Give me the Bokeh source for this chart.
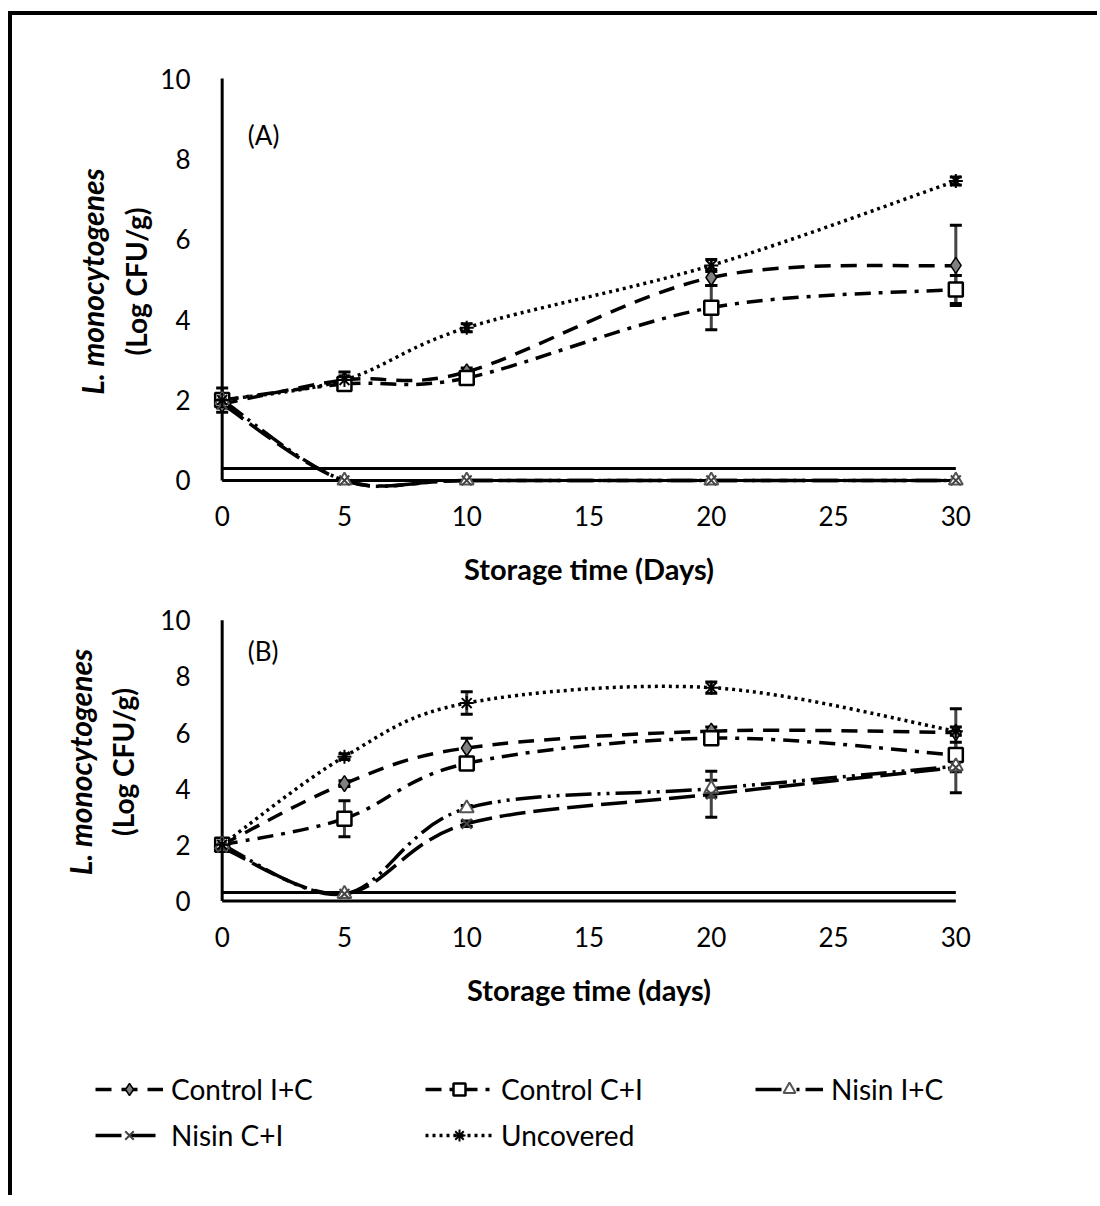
from bokeh.plotting import figure
from bokeh.models import (Range1d, LinearAxis, FixedTicker, Whisker, ColumnDataSource,
                          Label, Legend, LegendItem, TeeHead)
from bokeh.layouts import column
from bokeh.embed import file_html
from bokeh.resources import INLINE

# ---------------- data ----------------
days = [0, 5, 10, 20, 30]
x_ticks = [0, 5, 10, 15, 20, 25, 30]
y_ticks = [0, 2, 4, 6, 8, 10]
detection_limit = 0.3

names = ["Control I+C", "Control C+I", "Nisin I+C", "Nisin C+I", "Uncovered"]

# Panel (A)
a_control_ic = [1.9, 2.5, 2.7, 5.05, 5.35]
a_control_ci = [2.0, 2.4, 2.55, 4.3, 4.75]
a_nisin_ic = [2.0, 0.0, 0.0, 0.0, 0.0]
a_nisin_ci = [1.9, 0.0, 0.0, 0.0, 0.0]
a_uncovered = [2.0, 2.5, 3.8, 5.35, 7.45]

a_err_control_ic = [0.1, 0.2, 0.1, 0.2, 1.0]
a_err_control_ci = [0.3, 0.15, 0.15, 0.55, 0.35]
a_err_nisin_ic = [0.0, 0.0, 0.0, 0.0, 0.0]
a_err_nisin_ci = [0.0, 0.0, 0.0, 0.0, 0.0]
a_err_uncovered = [0.1, 0.1, 0.1, 0.15, 0.1]

# Panel (B)
b_control_ic = [2.0, 4.18, 5.45, 6.05, 6.0]
b_control_ci = [2.0, 2.93, 4.9, 5.8, 5.2]
b_nisin_ic = [2.0, 0.25, 3.3, 4.0, 4.8]
b_nisin_ci = [1.9, 0.25, 2.75, 3.8, 4.75]
b_uncovered = [2.0, 5.14, 7.05, 7.6, 6.05]

b_err_control_ic = [0.1, 0.1, 0.35, 0.15, 0.85]
b_err_control_ci = [0.1, 0.64, 0.2, 0.2, 0.2]
b_err_nisin_ic = [0.0, 0.05, 0.1, 0.3, 0.2]
b_err_nisin_ci = [0.0, 0.05, 0.1, 0.82, 0.9]
b_err_uncovered = [0.1, 0.1, 0.4, 0.2, 0.15]

# ---------------- styles ----------------
FONT = "Lato"
styles = {
    "Control I+C": dict(dash="16 10", marker="diamond", size=16, fill="#808080", mline="black", mw=1.5),
    "Control C+I": dict(dash="16 8 4 8", marker="square", size=14, fill="white", mline="black", mw=2.5),
    "Nisin I+C": dict(dash="26 6 3 6 3 6", marker="triangle", size=14, fill="white", mline="#555555", mw=2),
    "Nisin C+I": dict(dash="26 8", marker="x", size=14, fill=None, mline="#444444", mw=2),
    "Uncovered": dict(dash="3 4", marker="asterisk", size=14, fill=None, mline="black", mw=2),
}

X_RANGE = (-0.6, 30.6)
Y_RANGE = (-0.2, 10.1)
FIG_W = 1085
LEFT = 195
FRAME_W = 763


def smooth_segments(xs, ys):
    """Excel-style smoothed line: Bezier control points from neighbouring points."""
    n = len(xs)
    out = dict(x0=[], y0=[], x1=[], y1=[], cx0=[], cy0=[], cx1=[], cy1=[])
    for i in range(n - 1):
        xm, ym = (xs[i - 1], ys[i - 1]) if i > 0 else (xs[i], ys[i])
        xp, yp = (xs[i + 2], ys[i + 2]) if i + 2 < n else (xs[i + 1], ys[i + 1])
        out["x0"].append(xs[i]); out["y0"].append(ys[i])
        out["x1"].append(xs[i + 1]); out["y1"].append(ys[i + 1])
        out["cx0"].append(xs[i] + (xs[i + 1] - xm) / 6.0)
        out["cy0"].append(ys[i] + (ys[i + 1] - ym) / 6.0)
        out["cx1"].append(xs[i + 1] - (xp - xs[i]) / 6.0)
        out["cy1"].append(ys[i + 1] - (yp - ys[i]) / 6.0)
    return out


def make_panel(series, errors, tag, xlabel, top, frame_h, bottom,
               tick_standoff, xlab_standoff, lab_standoff, lab2_standoff, tag_y):
    p = figure(width=None, height=None, frame_width=FRAME_W, frame_height=frame_h,
               x_range=Range1d(*X_RANGE), y_range=Range1d(*Y_RANGE),
               output_backend="svg", toolbar_location=None,
               min_border_left=LEFT, min_border_right=FIG_W - LEFT - FRAME_W,
               min_border_top=top, min_border_bottom=bottom)
    p.outline_line_color = None
    p.grid.visible = False
    p.background_fill_color = "white"
    p.border_fill_color = "white"

    for ax in (p.xaxis[0], p.yaxis[0]):
        ax.axis_line_color = None
        ax.major_tick_line_color = None
        ax.minor_tick_line_color = None
        ax.major_label_text_font = FONT
        ax.major_label_text_font_size = "26px"
        ax.major_label_text_color = "black"
        ax.axis_label_text_font = FONT
        ax.axis_label_text_font_size = "29px"
        ax.axis_label_text_font_style = "bold"
        ax.axis_label_text_color = "black"
    p.yaxis.axis_label_text_font_size = "28px"
    p.xaxis.ticker = FixedTicker(ticks=x_ticks)
    p.yaxis.ticker = FixedTicker(ticks=y_ticks)
    p.xaxis.major_label_standoff = tick_standoff
    p.xaxis.axis_label = xlabel
    p.xaxis.axis_label_standoff = xlab_standoff
    p.yaxis.major_label_standoff = 11
    p.yaxis.axis_label = "(Log CFU/g)"
    p.yaxis.axis_label_standoff = lab_standoff

    ax2 = LinearAxis(ticker=FixedTicker(ticks=[]), axis_label="L. monocytogenes",
                     axis_line_color=None, major_tick_line_color=None,
                     minor_tick_line_color=None,
                     axis_label_text_font=FONT, axis_label_text_font_size="30px",
                     axis_label_text_font_style="bold italic",
                     axis_label_text_color="black", axis_label_standoff=lab2_standoff)
    p.add_layout(ax2, "left")

    # axis lines and detection limit line
    p.segment(x0=[x_ticks[0]], y0=[y_ticks[0]], x1=[x_ticks[0]], y1=[y_ticks[-1]],
              line_color="black", line_width=3)
    p.segment(x0=[x_ticks[0]], y0=[y_ticks[0]], x1=[x_ticks[-1]], y1=[y_ticks[0]],
              line_color="black", line_width=3)
    p.segment(x0=[x_ticks[0]], y0=[detection_limit], x1=[x_ticks[-1]], y1=[detection_limit],
              line_color="black", line_width=3)

    for name, vals in zip(names, series):
        st = styles[name]
        seg = smooth_segments(days, vals)
        p.bezier(source=ColumnDataSource(seg), x0="x0", y0="y0", x1="x1", y1="y1",
                 cx0="cx0", cy0="cy0", cx1="cx1", cy1="cy1",
                 line_color="black", line_width=3.5, line_dash=st["dash"])

    for name, vals, errs in zip(names, series, errors):
        xs = [d for d, e in zip(days, errs) if e > 0]
        if not xs:
            continue
        up = [v + e for v, e in zip(vals, errs) if e > 0]
        lo = [v - e for v, e in zip(vals, errs) if e > 0]
        src = ColumnDataSource(dict(x=xs, upper=up, lower=lo))
        w = Whisker(source=src, base="x", upper="upper", lower="lower",
                    line_color="#444444", line_width=3,
                    upper_head=TeeHead(size=12, line_width=3, line_color="black"),
                    lower_head=TeeHead(size=12, line_width=3, line_color="black"))
        p.add_layout(w)

    for name, vals in zip(names, series):
        st = styles[name]
        p.scatter(days, vals, marker=st["marker"], size=st["size"],
                  fill_color=st["fill"], line_color=st["mline"], line_width=st["mw"])

    p.add_layout(Label(x=1.05, y=tag_y, text=tag, text_font=FONT, text_font_size="26px",
                       text_baseline="middle", text_color="black"))
    return p


pA = make_panel([a_control_ic, a_control_ci, a_nisin_ic, a_nisin_ci, a_uncovered],
                [a_err_control_ic, a_err_control_ci, a_err_nisin_ic, a_err_nisin_ci, a_err_uncovered],
                "(A)", "Storage time (Days)", top=59, frame_h=414, bottom=102,
                tick_standoff=11, xlab_standoff=22, lab_standoff=4, lab2_standoff=7, tag_y=8.6)
pB = make_panel([b_control_ic, b_control_ci, b_nisin_ic, b_nisin_ci, b_uncovered],
                [b_err_control_ic, b_err_control_ci, b_err_nisin_ic, b_err_nisin_ci, b_err_uncovered],
                "(B)", "Storage time (days)", top=27, frame_h=289, bottom=124,
                tick_standoff=14, xlab_standoff=22, lab_standoff=17, lab2_standoff=6, tag_y=8.9)

# ---------------- legend panel ----------------
LEG_H = 165
pL = figure(width=FIG_W, height=LEG_H, x_range=Range1d(-100, -90), y_range=Range1d(-100, -90),
            output_backend="svg", toolbar_location=None,
            min_border_left=0, min_border_right=0, min_border_top=0, min_border_bottom=0,
            x_axis_location=None, y_axis_location=None)
pL.outline_line_color = None
pL.grid.visible = False
rend = {}
legend_series = [b_control_ic, b_control_ci, b_nisin_ic, b_nisin_ci, b_uncovered]
for name, vals in zip(names, legend_series):
    st = styles[name]
    lr = pL.line(days, vals, line_color="black", line_width=3.5, line_dash=st["dash"])
    sr = pL.scatter(days, vals, marker=st["marker"], size=st["size"],
                    fill_color=st["fill"], line_color=st["mline"], line_width=st["mw"])
    rend[name] = [lr, sr]

# column-major fill of a 2-row grid -> row 1: CIC, CCI, NIC ; row 2: NCI, Uncovered
order = ["Control I+C", "Nisin C+I", "Control C+I", "Uncovered", "Nisin I+C"]
items = [LegendItem(label=n, renderers=rend[n]) for n in order]

legend = Legend(items=items, ncols=3, location=(83, 43),
                glyph_width=68, glyph_height=30, label_height=30, label_width=242,
                label_standoff=8, spacing=12, padding=0, margin=0,
                label_text_font=FONT, label_text_font_size="28px",
                label_text_color="black", border_line_color=None,
                background_fill_alpha=0)
pL.add_layout(legend)

layout = column(column(pA, pB), column(pL),
                styles={"border-left": "4px solid black",
                        "border-top": "4px solid black",
                        "margin-top": "11px",
                        "margin-left": "8px"})

open("out.html", "w").write(file_html(layout, INLINE))
